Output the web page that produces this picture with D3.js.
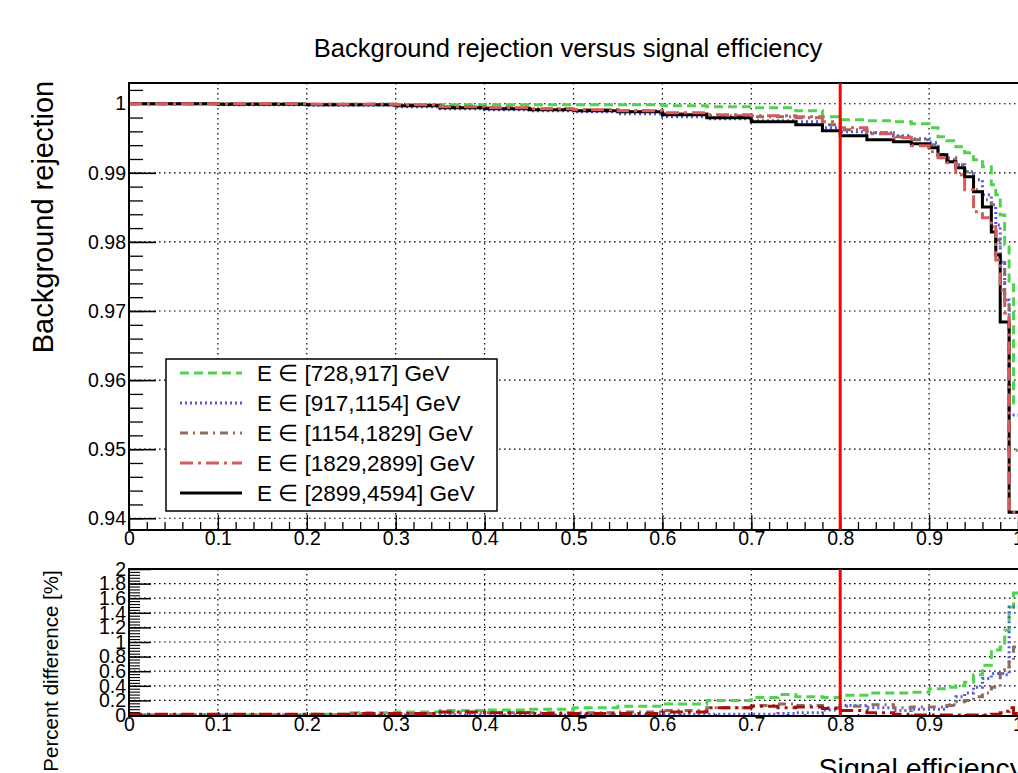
<!DOCTYPE html>
<html>
<head>
<meta charset="utf-8">
<script src="https://cdn.jsdelivr.net/npm/d3@7"></script>
<style>
  body { margin: 0; background: #fff; }
  svg { display: block; font-family: "Liberation Sans", Arial, sans-serif; }
</style>
</head>
<body>
<div id="chart"></div>
<script>
// ROC curves (step histograms), signal efficiency grid for the upper pad
const effTop = [0, 0.1, 0.2, 0.3, 0.35, 0.4, 0.45, 0.5, 0.55, 0.6, 0.65, 0.7, 0.75, 0.78, 0.8, 0.83,
  0.86, 0.88, 0.9, 0.91, 0.92, 0.93, 0.94, 0.95, 0.96, 0.97, 0.975, 0.98, 0.985, 0.99, 0.995, 1.0];

const rej728 = [1.0, 1.0, 0.99993, 0.99986, 0.99986, 0.99986, 0.99986, 0.99986, 0.99986, 0.99971, 0.99957,
  0.99942, 0.99899, 0.99812, 0.99768, 0.99754, 0.99739, 0.99710, 0.99652, 0.99522, 0.99464, 0.99377,
  0.99290, 0.99188, 0.99087, 0.98826, 0.98681, 0.98391, 0.97957, 0.97406, 0.95667, 0.95667];
const rej917 = [1.0, 0.99986, 0.99978, 0.99957, 0.99928, 0.99913, 0.99899, 0.99884, 0.99855, 0.99812,
  0.99783, 0.99754, 0.99739, 0.99652, 0.99594, 0.99580, 0.99536, 0.99493, 0.99435, 0.99217, 0.99188,
  0.99116, 0.99014, 0.98899, 0.98681, 0.98536, 0.98246, 0.97710, 0.97159, 0.95493, 0.95493, 0.95493];
const rej1154 = [1.0, 1.0, 0.99993, 0.99978, 0.99957, 0.99942, 0.99928, 0.99913, 0.99899, 0.99855,
  0.99826, 0.99812, 0.99797, 0.99696, 0.99623, 0.99580, 0.99522, 0.99478, 0.99406, 0.99261, 0.99217,
  0.99116, 0.99014, 0.98754, 0.98609, 0.98217, 0.98029, 0.97739, 0.97159, 0.94986, 0.94986, 0.94986];
const rej1829 = [1.0, 1.0, 0.99993, 0.99986, 0.99957, 0.99942, 0.99928, 0.99913, 0.99899, 0.99870,
  0.99841, 0.99826, 0.99812, 0.99739, 0.99652, 0.99565, 0.99507, 0.99391, 0.99304, 0.99217, 0.99145,
  0.98971, 0.98754, 0.98435, 0.98348, 0.98246, 0.97739, 0.97304, 0.96971, 0.94087, 0.94087, 0.94087];
const rej2899 = [1.0, 0.99993, 0.99986, 0.99971, 0.99942, 0.99928, 0.99913, 0.99899, 0.99884, 0.99841,
  0.99797, 0.99739, 0.99696, 0.99609, 0.99536, 0.99478, 0.99449, 0.99420, 0.99362, 0.99261, 0.99159,
  0.99072, 0.98942, 0.98725, 0.98507, 0.98145, 0.97812, 0.96841, 0.96841, 0.94087, 0.94087, 0.94087];

// percent difference w.r.t. the highest energy bin, lower pad
const effDiff = [0, 0.1, 0.2, 0.25, 0.3, 0.35, 0.4, 0.45, 0.5, 0.55, 0.6, 0.65, 0.7, 0.73, 0.75, 0.78,
  0.8, 0.83, 0.86, 0.88, 0.9, 0.92, 0.93, 0.94, 0.95, 0.96, 0.97, 0.98, 0.985, 0.99, 0.995, 1.0];
const diff728 = [0, 0, 0.01, 0.03, 0.04, 0.06, 0.07, 0.08, 0.1, 0.12, 0.15, 0.2, 0.24, 0.28, 0.25, 0.24,
  0.27, 0.3, 0.3, 0.31, 0.36, 0.38, 0.4, 0.45, 0.55, 0.68, 0.89, 0.93, 1.16, 1.48, 1.67, 1.67];
const diff917 = [0, 0, 0, 0, 0, 0, 0, 0, 0, 0, 0.01, 0.01, 0.01, 0.02, 0.03, 0.07,
  0.13, 0.1, 0.06, 0.08, 0.08, 0.14, 0.25, 0.3, 0.38, 0.5, 0.57, 0.57, 0.55, 1.48, 1.48, 1.48];
const diff1154 = [0, 0, 0, 0.02, 0.02, 0.03, 0.03, 0.03, 0.03, 0.04, 0.06, 0.1, 0.13, 0.15, 0.13, 0.1,
  0.12, 0.14, 0.1, 0.11, 0.11, 0.13, 0.18, 0.2, 0.25, 0.3, 0.38, 0.57, 0.62, 0.75, 0.93, 0.93];
const diff1829 = [0.01, 0.01, 0.01, 0.02, 0.02, 0.04, 0.03, 0.02, 0.02, 0.02, 0.04, 0.1, 0.12, 0.1, 0.11, 0.09,
  0.06, 0.03, 0.01, 0, 0, 0, 0, 0, 0, 0, 0.01, 0.03, 0.05, 0.1, 0.02, 0.02];

const seriesLabels = ["E \u2208 [728,917] GeV", "E \u2208 [917,1154] GeV", "E \u2208 [1154,1829] GeV",
  "E \u2208 [1829,2899] GeV", "E \u2208 [2899,4594] GeV"];
const cutEff = 0.8;

const xTicks = [0, 0.1, 0.2, 0.3, 0.4, 0.5, 0.6, 0.7, 0.8, 0.9, 1];
const yTopTicks = [0.94, 0.95, 0.96, 0.97, 0.98, 0.99, 1];
const yDiffTicks = [0, 0.2, 0.4, 0.6, 0.8, 1, 1.2, 1.4, 1.6, 1.8, 2];

// line styles per series (green dashed, blue dotted, brown dash-dot, red long dash-dot, black solid)
const styles = [
  { color: "#4fd34f", dash: "9,5" },
  { color: "#5555e8", dash: "2,3" },
  { color: "#8c6e5c", dash: "8,5,2,5" },
  { color: "#d85a5a", dash: "13,5,3,5" },
  { color: "#000000", dash: null }
];

const width = 1018, height = 773;
const left = 129, right = 1018;
const topPad = { top: 83, bottom: 530 };
const lowPad = { top: 569, bottom: 716 };
const tickFont = 19.5;

const svg = d3.select("#chart").append("svg")
  .attr("width", width).attr("height", height)
  .attr("viewBox", [0, 0, width, height]);

const x = d3.scaleLinear().domain([0, 1]).range([left, right]);
const yTop = d3.scaleLinear().domain([0.9383, 1.003]).range([topPad.bottom, topPad.top]);
const yLow = d3.scaleLinear().domain([0, 2]).range([715, lowPad.top]);

const defs = svg.append("defs");
defs.append("clipPath").attr("id", "clipTop").append("rect")
  .attr("x", left).attr("y", topPad.top).attr("width", right - left).attr("height", topPad.bottom - topPad.top);
defs.append("clipPath").attr("id", "clipLow").append("rect")
  .attr("x", left).attr("y", lowPad.top).attr("width", right - left).attr("height", lowPad.bottom - lowPad.top + 2);

function drawGrid(yScale, yVals, pad) {
  const g = svg.append("g").attr("stroke", "#000").attr("stroke-width", 1.2).attr("stroke-dasharray", "1.6,3.4");
  g.selectAll(".gx").data(xTicks.filter(d => d > 0 && d < 1)).join("line")
    .attr("x1", d => x(d)).attr("x2", d => x(d))
    .attr("y1", pad.top).attr("y2", pad.bottom);
  g.selectAll(".gy").data(yVals.filter(d => yScale(d) > pad.top + 1 && yScale(d) < pad.bottom - 3)).join("line")
    .attr("x1", left).attr("x2", right)
    .attr("y1", d => yScale(d)).attr("y2", d => yScale(d));
}

drawGrid(yTop, yTopTicks, topPad);
drawGrid(yLow, yDiffTicks, lowPad);

// axes, ROOT style: ticks pointing into the frame
function xAxis(pad, major, minor) {
  svg.append("g")
    .attr("transform", `translate(0,${pad.bottom})`)
    .call(d3.axisBottom(x).tickValues(d3.range(0, 1.0001, 0.02)).tickSize(-minor).tickFormat(""))
    .call(g => g.select(".domain").remove())
    .call(g => g.selectAll("line").attr("stroke-width", 1.3));
  svg.append("g")
    .attr("transform", `translate(0,${pad.bottom})`)
    .call(d3.axisBottom(x).tickValues(xTicks).tickSize(-major).tickPadding(1)
      .tickFormat(d => d3.format("~g")(d)))
    .call(g => g.select(".domain").remove())
    .call(g => g.selectAll("line").attr("stroke-width", 1.3))
    .call(g => g.selectAll("text").attr("font-size", tickFont).attr("font-family", "Liberation Sans, Arial, sans-serif").attr("fill", "#000"));
}
xAxis(topPad, 15, 8);
xAxis(lowPad, 4, 2);

svg.append("g")
  .attr("transform", `translate(${left},0)`)
  .call(d3.axisLeft(yTop).tickValues(d3.range(0.94, 1.0031, 0.002)).tickSize(-14).tickFormat(""))
  .call(g => g.select(".domain").remove())
  .call(g => g.selectAll("line").attr("stroke-width", 1.3));
svg.append("g")
  .attr("transform", `translate(${left},0)`)
  .call(d3.axisLeft(yTop).tickValues(yTopTicks).tickSize(-27).tickPadding(3).tickFormat(d => d3.format("~g")(d)))
  .call(g => g.select(".domain").remove())
  .call(g => g.selectAll("line").attr("stroke-width", 1.6))
  .call(g => g.selectAll("text").attr("font-size", tickFont).attr("font-family", "Liberation Sans, Arial, sans-serif").attr("fill", "#000"));

svg.append("g")
  .attr("transform", `translate(${left},0)`)
  .call(d3.axisLeft(yLow).tickValues(d3.range(0, 2.001, 0.04)).tickSize(-11).tickFormat(""))
  .call(g => g.select(".domain").remove())
  .call(g => g.selectAll("line").attr("stroke-width", 1.1));
svg.append("g")
  .attr("transform", `translate(${left},0)`)
  .call(d3.axisLeft(yLow).tickValues(yDiffTicks).tickSize(-22).tickPadding(3).tickFormat(d => d3.format("~g")(d)))
  .call(g => g.select(".domain").remove())
  .call(g => g.selectAll("line").attr("stroke-width", 1.5))
  .call(g => g.selectAll("text").attr("font-size", tickFont).attr("font-family", "Liberation Sans, Arial, sans-serif").attr("fill", "#000"));

// curves
const stepTop = d3.line().curve(d3.curveStepAfter).x(d => x(d[0])).y(d => yTop(d[1]));
const stepLow = d3.line().curve(d3.curveStepAfter).x(d => x(d[0])).y(d => yLow(d[1]));

const rocSeries = [rej728, rej917, rej1154, rej2899, rej1829];
const rocStyle = [styles[0], styles[1], styles[2], styles[4], styles[3]];
const gTop = svg.append("g").attr("clip-path", "url(#clipTop)");
rocSeries.forEach((vals, i) => {
  gTop.append("path")
    .attr("d", stepTop(effTop.map((e, j) => [e, vals[j]])))
    .attr("fill", "none")
    .attr("stroke", rocStyle[i].color)
    .attr("stroke-width", 3)
    .attr("stroke-dasharray", rocStyle[i].dash);
});

const diffSeries = [diff728, diff917, diff1154, diff1829];
const diffStyle = [styles[0], styles[1], styles[2], { color: "#a80d0d", dash: "13,5,3,5" }];
const gLow = svg.append("g").attr("clip-path", "url(#clipLow)");
diffSeries.forEach((vals, i) => {
  gLow.append("path")
    .attr("d", stepLow(effDiff.map((e, j) => [e, vals[j]])))
    .attr("fill", "none")
    .attr("stroke", diffStyle[i].color)
    .attr("stroke-width", 3)
    .attr("stroke-dasharray", diffStyle[i].dash);
});

// frames
svg.append("rect").attr("x", left).attr("y", topPad.top).attr("width", right - left + 2)
  .attr("height", topPad.bottom - topPad.top).attr("fill", "none").attr("stroke", "#000").attr("stroke-width", 2);
svg.append("rect").attr("x", left).attr("y", lowPad.top).attr("width", right - left + 2)
  .attr("height", lowPad.bottom - lowPad.top).attr("fill", "none").attr("stroke", "#000").attr("stroke-width", 2);

// cut line at 80% signal efficiency
[topPad, lowPad].forEach(p => {
  svg.append("line")
    .attr("x1", x(cutEff)).attr("x2", x(cutEff))
    .attr("y1", p.top).attr("y2", p.bottom)
    .attr("stroke", "#ff0000").attr("stroke-width", 3);
});

// legend
const leg = svg.append("g");
leg.append("rect").attr("x", 166).attr("y", 359).attr("width", 331).attr("height", 152)
  .attr("fill", "#fff").attr("stroke", "#000").attr("stroke-width", 1.5);
seriesLabels.forEach((lab, i) => {
  const yy = 373 + i * 30;
  leg.append("line")
    .attr("x1", 180).attr("x2", 242).attr("y1", yy).attr("y2", yy)
    .attr("stroke", styles[i].color).attr("stroke-width", 3)
    .attr("stroke-dasharray", styles[i].dash);
  leg.append("text")
    .attr("x", 257).attr("y", yy + 8)
    .attr("font-size", 22.5).attr("fill", "#000")
    .text(lab);
});

// titles
svg.append("text").attr("x", 568).attr("y", 57).attr("text-anchor", "middle")
  .attr("font-size", 25.5).text("Background rejection versus signal efficiency");
svg.append("text").attr("transform", "translate(53,217) rotate(-90)").attr("text-anchor", "middle")
  .attr("font-size", 29).text("Background rejection");
svg.append("text").attr("transform", "translate(58,671) rotate(-90)").attr("text-anchor", "middle")
  .attr("font-size", 20.5).text("Percent difference [%]");
svg.append("text").attr("x", 1024).attr("y", 778).attr("text-anchor", "end")
  .attr("font-size", 28.5).text("Signal efficiency");
</script>
</body>
</html>
